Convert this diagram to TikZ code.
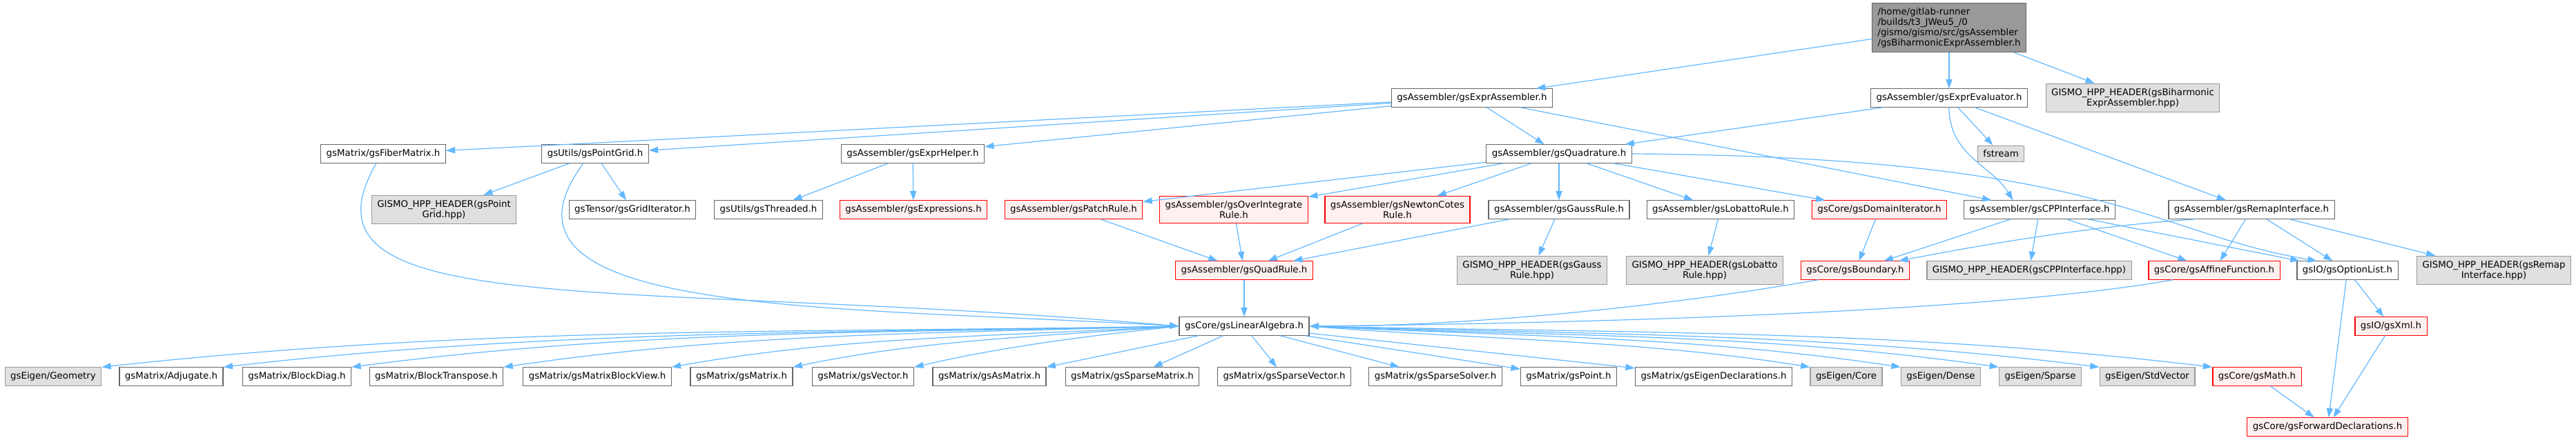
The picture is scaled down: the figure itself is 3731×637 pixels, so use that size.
\documentclass[tikz,border=0pt]{standalone}
\usepackage{fontspec}
\setmainfont{DejaVu Sans}
\usetikzlibrary{arrows.meta}
\definecolor{edgeblue}{HTML}{63B8FF}
\definecolor{boxline}{HTML}{666666}
\definecolor{extline}{HTML}{999999}
\definecolor{extfill}{HTML}{E0E0E0}
\definecolor{truncline}{HTML}{FF0000}
\definecolor{truncfill}{HTML}{FFF0F0}
\definecolor{rootfill}{HTML}{999999}
\tikzset{
  file/.style={draw=boxline, fill=white, line width=0.9pt, inner xsep=6pt,
    inner ysep=5pt, align=center, font=\fontsize{10}{11.25}\selectfont},
  extfile/.style={file, draw=extline, fill=extfill},
  truncfile/.style={file, draw=truncline, fill=truncfill},
  rootfile/.style={file, fill=rootfill, align=left},
  dep/.style={draw=edgeblue, line width=0.9pt, -{Triangle[length=10pt,width=7pt]}}
}
\begin{document}
\begin{tikzpicture}[x=0.75pt, y=0.75pt]
  \useasboundingbox (0,0) rectangle (3731,-637);
  % top
  \node[rootfile] (root) at (2823,-40) {/home/gitlab-runner\\/builds/t3\_JWeu5\_/0\\/gismo/gismo/src/gsAssembler\\/gsBiharmonicExprAssembler.h};
  \node[file] (exprasm) at (2132,-142) {gsAssembler/gsExprAssembler.h};
  \node[file] (expreval) at (2823,-142) {gsAssembler/gsExprEvaluator.h};
  \node[extfile] (biharmhpp) at (3089,-142) {GISMO\_HPP\_HEADER(gsBiharmonic\\ExprAssembler.hpp)};
  % second row
  \node[file] (fiber) at (555,-223) {gsMatrix/gsFiberMatrix.h};
  \node[file] (pointgrid) at (862,-223) {gsUtils/gsPointGrid.h};
  \node[file] (exprhelper) at (1322,-223) {gsAssembler/gsExprHelper.h};
  \node[file] (quadrature) at (2258,-223) {gsAssembler/gsQuadrature.h};
  \node[extfile] (fstream) at (2898,-223) {fstream};
  % third row
  \node[extfile] (pointgridhpp) at (643,-304) {GISMO\_HPP\_HEADER(gsPoint\\Grid.hpp)};
  \node[file] (griditer) at (916,-304) {gsTensor/gsGridIterator.h};
  \node[file] (threaded) at (1113,-304) {gsUtils/gsThreaded.h};
  \node[truncfile] (expressions) at (1323,-304) {gsAssembler/gsExpressions.h};
  \node[truncfile] (patchrule) at (1555,-304) {gsAssembler/gsPatchRule.h};
  \node[truncfile] (overint) at (1787,-304) {gsAssembler/gsOverIntegrate\\Rule.h};
  \node[truncfile] (newton) at (2024,-304) {gsAssembler/gsNewtonCotes\\Rule.h};
  \node[file] (gauss) at (2258,-304) {gsAssembler/gsGaussRule.h};
  \node[file] (lobatto) at (2492,-304) {gsAssembler/gsLobattoRule.h};
  \node[truncfile] (domainit) at (2722,-304) {gsCore/gsDomainIterator.h};
  \node[file] (cppint) at (2954,-304) {gsAssembler/gsCPPInterface.h};
  \node[file] (remap) at (3261,-304) {gsAssembler/gsRemapInterface.h};
  % fourth row
  \node[truncfile] (quadrule) at (1802,-392) {gsAssembler/gsQuadRule.h};
  \node[extfile] (gausshpp) at (2219,-392) {GISMO\_HPP\_HEADER(gsGauss\\Rule.hpp)};
  \node[extfile] (lobattohpp) at (2469,-392) {GISMO\_HPP\_HEADER(gsLobatto\\Rule.hpp)};
  \node[truncfile] (boundary) at (2687,-392) {gsCore/gsBoundary.h};
  \node[extfile] (cpphpp) at (2939,-392) {GISMO\_HPP\_HEADER(gsCPPInterface.hpp)};
  \node[truncfile] (affine) at (3207,-392) {gsCore/gsAffineFunction.h};
  \node[file] (optionlist) at (3400,-392) {gsIO/gsOptionList.h};
  \node[extfile] (remaphpp) at (3612,-392) {GISMO\_HPP\_HEADER(gsRemap\\Interface.hpp)};
  % fifth row
  \node[file] (linalg) at (1802,-473) {gsCore/gsLinearAlgebra.h};
  \node[truncfile] (xml) at (3463,-473) {gsIO/gsXml.h};
  % bottom row
  \node[extfile] (geometry) at (77,-546) {gsEigen/Geometry};
  \node[file] (adjugate) at (248,-546) {gsMatrix/Adjugate.h};
  \node[file] (blockdiag) at (430,-546) {gsMatrix/BlockDiag.h};
  \node[file] (blocktrans) at (632,-546) {gsMatrix/BlockTranspose.h};
  \node[file] (blockview) at (865,-546) {gsMatrix/gsMatrixBlockView.h};
  \node[file] (gsmatrix) at (1074,-546) {gsMatrix/gsMatrix.h};
  \node[file] (gsvector) at (1250,-546) {gsMatrix/gsVector.h};
  \node[file] (asmatrix) at (1433,-546) {gsMatrix/gsAsMatrix.h};
  \node[file] (sparsematrix) at (1640,-546) {gsMatrix/gsSparseMatrix.h};
  \node[file] (sparsevector) at (1860,-546) {gsMatrix/gsSparseVector.h};
  \node[file] (sparsesolver) at (2079,-546) {gsMatrix/gsSparseSolver.h};
  \node[file] (point) at (2272,-546) {gsMatrix/gsPoint.h};
  \node[file] (eigendecl) at (2482,-546) {gsMatrix/gsEigenDeclarations.h};
  \node[extfile] (eigencore) at (2674,-546) {gsEigen/Core};
  \node[extfile] (eigendense) at (2811,-546) {gsEigen/Dense};
  \node[extfile] (eigensparse) at (2955,-546) {gsEigen/Sparse};
  \node[extfile] (stdvector) at (3110,-546) {gsEigen/StdVector};
  \node[truncfile] (gsmath) at (3269,-546) {gsCore/gsMath.h};
  \node[truncfile] (fwddecl) at (3371,-619) {gsCore/gsForwardDeclarations.h};

  % includes of the root and the assemblers
  \draw[dep] (root) -- (exprasm);
  \draw[dep] (root) -- (expreval);
  \draw[dep] (root) -- (biharmhpp);
  \draw[dep] (exprasm) -- (fiber);
  \draw[dep] (exprasm) -- (pointgrid);
  \draw[dep] (exprasm) -- (exprhelper);
  \draw[dep] (exprasm) -- (quadrature);
  \draw[dep] (exprasm) -- (cppint);
  \draw[dep] (expreval) -- (quadrature);
  \draw[dep] (expreval) -- (fstream);
  \draw[dep] (expreval.south) .. controls +(0,-70) and +(-30,50) .. ([xshift=-29pt]cppint.north);
  \draw[dep] (expreval) -- (remap);
  \draw[dep] (exprhelper) -- (threaded);
  \draw[dep] (exprhelper) -- (expressions);
  \draw[dep] (pointgrid) -- (pointgridhpp);
  \draw[dep] (pointgrid) -- (griditer);
  \draw[dep] ([xshift=-12.75pt]pointgrid.south) .. controls +(-165,-223) and +(-508,30) .. (linalg.west);
  \draw[dep] ([xshift=-7.5pt]fiber.south) .. controls +(-135,-234) and +(-808,70) .. (linalg.west);
  % quadrature
  \draw[dep] (quadrature) -- (patchrule);
  \draw[dep] (quadrature) -- (overint);
  \draw[dep] (quadrature) -- (newton);
  \draw[dep] (quadrature) -- (gauss);
  \draw[dep] (quadrature) -- (lobatto);
  \draw[dep] (quadrature) -- (domainit);
  \draw[dep] (quadrature.east) .. controls +(690,-5) and +(-240,40) .. ([xshift=22pt]optionlist.north west);
  \draw[dep] (patchrule) -- (quadrule);
  \draw[dep] (overint) -- (quadrule);
  \draw[dep] (newton) -- (quadrule);
  \draw[dep] (gauss) -- (quadrule);
  \draw[dep] (gauss) -- (gausshpp);
  \draw[dep] (lobatto) -- (lobattohpp);
  \draw[dep] (domainit) -- (boundary);
  % interfaces
  \draw[dep] (cppint) -- (boundary);
  \draw[dep] (cppint) -- (cpphpp);
  \draw[dep] (cppint) -- (affine);
  \draw[dep] (cppint) -- (optionlist);
  \draw[dep] ([xshift=-60pt]remap.south) .. controls +(-150,-10) and +(130,25) .. ([xshift=-12pt]boundary.north east);
  \draw[dep] (remap) -- (affine);
  \draw[dep] (remap) -- (optionlist);
  \draw[dep] (remap) -- (remaphpp);
  \draw[dep] ([xshift=-40pt]boundary.south) .. controls +(-200,-35) and +(250,0) .. (linalg.east);
  \draw[dep] ([xshift=-45pt]affine.south) .. controls +(-250,-45) and +(450,5) .. (linalg.east);
  \draw[dep] (quadrule) -- (linalg);
  \draw[dep] (optionlist) -- (xml);
  \draw[dep] (optionlist) -- (fwddecl);
  \draw[dep] (xml) -- (fwddecl);
  \draw[dep] (gsmath) -- (fwddecl);
  % linear algebra
  \draw[dep] (linalg.west) .. controls +(-550,-10) and +(550,60) .. (geometry.north east);
  \draw[dep] (linalg.west) .. controls +(-480,-10) and +(480,55) .. (adjugate.north east);
  \draw[dep] (linalg.west) .. controls +(-420,-10) and +(420,55) .. (blockdiag.north east);
  \draw[dep] (linalg.west) .. controls +(-340,-10) and +(340,50) .. (blocktrans.north east);
  \draw[dep] (linalg.west) .. controls +(-260,-15) and +(250,45) .. (blockview.north east);
  \draw[dep] (linalg.west) .. controls +(-200,-15) and +(190,40) .. (gsmatrix.north east);
  \draw[dep] (linalg.west) .. controls +(-140,-15) and +(130,30) .. (gsvector.north east);
  \draw[dep] (linalg) -- (asmatrix.north east);
  \draw[dep] (linalg) -- (sparsematrix);
  \draw[dep] (linalg) -- (sparsevector);
  \draw[dep] (linalg) -- (sparsesolver);
  \draw[dep] (linalg) -- (point);
  \draw[dep] (linalg) -- (eigendecl);
  \draw[dep] (linalg.east) .. controls +(250,-20) and +(-250,40) .. (eigencore.north west);
  \draw[dep] (linalg.east) .. controls +(300,-15) and +(-300,45) .. (eigendense.north west);
  \draw[dep] (linalg.east) .. controls +(350,-15) and +(-350,50) .. (eigensparse.north west);
  \draw[dep] (linalg.east) .. controls +(400,-12) and +(-400,50) .. (stdvector.north west);
  \draw[dep] (linalg.east) .. controls +(460,-10) and +(-460,55) .. (gsmath.north west);
\end{tikzpicture}
\end{document}
